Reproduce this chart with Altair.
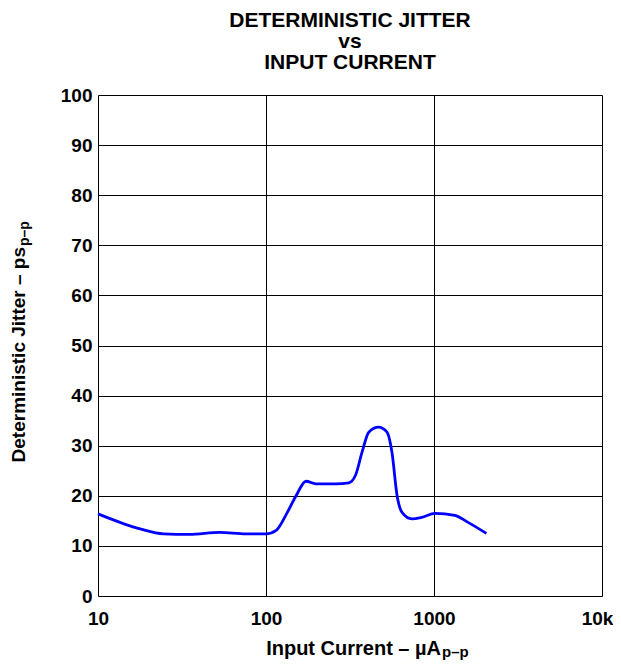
import altair as alt
import pandas as pd

# Data
current_uA = [10, 17.8, 24.5, 35, 53, 76, 100, 115, 134, 151, 173, 198, 259, 311,
              341, 373, 409, 468, 525, 562, 603, 645, 738, 845, 1014, 1330, 1595, 2050]
jitter_ps = [16.4, 13.4, 12.4, 12.3, 12.7, 12.4, 12.4, 13.1, 16.7, 20.0, 22.9, 22.4,
             22.4, 22.6, 24.1, 28.7, 32.7, 33.7, 32.7, 28.7, 20.0, 16.7, 15.4, 15.7,
             16.5, 16.1, 14.7, 12.5]

x_ticks = [10, 100, 1000, 10000]
y_ticks = [0, 10, 20, 30, 40, 50, 60, 70, 80, 90, 100]

title_lines = ["DETERMINISTIC JITTER", "vs", "INPUT CURRENT"]
x_title_main = "Input Current – µA"
y_title_main = "Deterministic Jitter – ps"
sub_text = "p–p"

FONT = "Liberation Sans"
W, H = 504, 501

df = pd.DataFrame({"current": current_uA, "jitter": jitter_ps})

line = alt.Chart(df).mark_line(
    color="#0000ff", strokeWidth=2.8, interpolate="monotone"
).encode(
    x=alt.X("current:Q",
            scale=alt.Scale(type="log", domain=[10, 10000]),
            axis=alt.Axis(values=x_ticks, title=None, grid=True, gridColor="black",
                          gridWidth=1, gridOpacity=1, ticks=False, domain=False,
                          labelFont=FONT, labelFontSize=19, labelFontWeight="bold",
                          labelColor="black", labelPadding=13, labelFlush=False,
                          labelOffset={"condition": {"test": "datum.value >= 10000", "value": -5},
                                       "value": 0},
                          labelExpr="datum.value >= 10000 ? '10k' : format(datum.value, 'd')")),
    y=alt.Y("jitter:Q",
            scale=alt.Scale(domain=[0, 100], nice=False),
            axis=alt.Axis(values=y_ticks, title=None, grid=True, gridColor="black",
                          gridWidth=1, gridOpacity=1, ticks=False, domain=False,
                          labelFont=FONT, labelFontSize=19, labelFontWeight="bold",
                          labelColor="black", labelPadding=6, labelFlush=False)),
)

txt_df = pd.DataFrame({"d": [0]})

x_main = alt.Chart(txt_df).mark_text(
    font=FONT, fontSize=20, fontWeight="bold", align="right", baseline="alphabetic",
    color="black"
).encode(x=alt.value(343), y=alt.value(560), text=alt.value(x_title_main))

x_sub = alt.Chart(txt_df).mark_text(
    font=FONT, fontSize=15, fontWeight="bold", align="left", baseline="alphabetic",
    color="black"
).encode(x=alt.value(344), y=alt.value(562), text=alt.value(sub_text))

y_main = alt.Chart(txt_df).mark_text(
    font=FONT, fontSize=19, fontWeight="bold", align="right", baseline="alphabetic",
    angle=270, color="black"
).encode(x=alt.value(-73), y=alt.value(152), text=alt.value(y_title_main))

y_sub = alt.Chart(txt_df).mark_text(
    font=FONT, fontSize=14, fontWeight="bold", align="left", baseline="alphabetic",
    angle=270, color="black"
).encode(x=alt.value(-69), y=alt.value(151), text=alt.value(sub_text))

chart = alt.layer(line, x_main, x_sub, y_main, y_sub).properties(
    width=W, height=H,
    autosize=alt.AutoSizeParams(type="none"),
    padding={"left": 90, "top": 87, "right": 11, "bottom": 64},
    title=alt.TitleParams(text=title_lines, font=FONT, fontSize=21, fontWeight="bold",
                          color="black", anchor="middle", frame="group",
                          lineHeight=21, offset=13),
).configure_view(stroke="black", strokeWidth=2.5).configure(background="white")

chart.save("out.html", embed_options={"renderer": "svg", "actions": False})
